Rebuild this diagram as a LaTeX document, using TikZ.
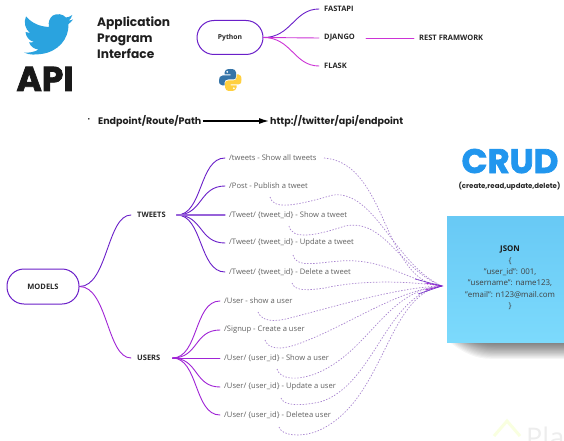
\documentclass[tikz,border=0pt]{standalone}
\usepackage{fontspec}
\setmainfont{Open Sans}
\newfontfamily\headfont{Poppins}
\newfontface\heavyface[FakeBold=2]{Poppins Bold}
\usetikzlibrary{arrows.meta,calc}
\definecolor{tw}{HTML}{6A1FC9}
\definecolor{us}{HTML}{A024D6}
\definecolor{mg}{HTML}{CC33D6}
\definecolor{dsh}{HTML}{A985D0}
\definecolor{birdblue}{HTML}{2AA3DF}
\definecolor{crudblue}{HTML}{2196EE}
\definecolor{pyb}{HTML}{3574A8}
\definecolor{pyy}{HTML}{FFD040}
\definecolor{notetop}{HTML}{68C9F5}
\definecolor{notebot}{HTML}{7CDAFC}
\tikzset{
 pill/.style={draw=#1,line width=1pt,rounded corners=17pt,fill=white,font=\bfseries\fontsize{7.5}{9}\selectfont,text=black!85},
 branch/.style={font=\bfseries\fontsize{7.5}{9}\selectfont,text=black!85,inner xsep=5pt,inner ysep=1pt,anchor=west},
 leaf/.style={font=\fontsize{7.6}{9}\selectfont,text=black!62,inner xsep=4pt,inner ysep=1pt,anchor=west},
 head/.style={font=\headfont\bfseries\fontsize{12.2}{16}\selectfont,text=black!88,inner sep=0pt,anchor=base west},
 conn/.style={line width=.9pt,line cap=round},
 dsh/.style={draw=dsh,line width=.7pt,dash pattern=on 1.4pt off 1.6pt},
}
\begin{document}
\begin{tikzpicture}[x=1pt,y=-1pt]
\useasboundingbox (0,0) rectangle (564,441);
\fill[white] (0,0) rectangle (564,441);
% bird
\fill[birdblue] (72.3,15) .. controls (69,17) and (67.5,17.5) .. (66,17.5)
  .. controls (63,14) and (57,13) .. (53,15.5) .. controls (49.5,18) and (48,22) .. (49,27)
  .. controls (39,26.5) and (32,23) .. (26,16.5) .. controls (23.5,22) and (25,29) .. (30,33)
  .. controls (28,33) and (27,32.5) .. (25.5,32) .. controls (26,37) and (29,40.5) .. (34,42)
  .. controls (32,42.5) and (30.5,42.5) .. (29,42.3) .. controls (30.5,46.5) and (34,49) .. (38.5,49.5)
  .. controls (34.5,52) and (29.5,53) .. (24,52.5) .. controls (30,55.5) and (36,54.5) .. (41,54)
  .. controls (58,52) and (69,39) .. (68.5,24) .. controls (70,23) and (71.5,21.5) .. (73,19.5)
  .. controls (71.5,20.2) and (70,20.7) .. (68.5,20.8) .. controls (70,20) and (71.5,17.5) .. (72.3,15) -- cycle;
\node[font=\heavyface\fontsize{34.5}{36}\selectfont,text=black!90,inner sep=0pt,anchor=base] (api) at (45,91) {API};
% headings
\node[head] (h1) at (97,26.5) {Application};
\node[head] (h2) at (97,42.5) {Program};
\node[head] (h3) at (97,58.5) {Interface};
% python tree
\node[pill=tw,minimum width=66pt,minimum height=34pt,font=\bfseries\fontsize{6.8}{9}\selectfont] (py) at (230,37.5) {Python};
\node[branch] (fast) at (319,9) {FASTAPI};
\node[branch] (dj) at (319,38) {DJANGO};
\node[branch] (fl) at (319,66) {FLASK};
\node[branch] (rest) at (414,38) {REST FRAMWORK};
\draw[conn,tw] (py.east) .. controls +(28,0) and +(-25,0) .. (fast.west);
\draw[conn,mg] (py.east) -- (dj.west);
\draw[conn,mg] (py.east) .. controls +(28,0) and +(-25,0) .. (fl.west);
\draw[conn,mg,shorten <=6pt] (dj.east) -- (rest.west);
% python logo
\fill[pyb] (230.5,69) .. controls (226,69) and (224.5,70.5) .. (224.5,72.5) -- (224.5,74.5) -- (230.5,74.5) -- (230.5,75.5)
  -- (222.5,75.5) .. controls (220,75.5) and (219,77.5) .. (219,80.3) .. controls (219,83.5) and (220,85.5) .. (222.5,85.5)
  -- (224.5,85.5) -- (224.5,82.5) .. controls (224.5,80.5) and (226,79.5) .. (228,79.5) -- (233,79.5)
  .. controls (235,79.5) and (236,78.5) .. (236,76.5) -- (236,72.5) .. controls (236,70.5) and (234.5,69) .. (230.5,69) -- cycle;
\fill[pyy] (230.5,91) .. controls (235,91) and (236.5,89.5) .. (236.5,87.5) -- (236.5,85.5) -- (230.5,85.5) -- (230.5,84.5)
  -- (238.5,84.5) .. controls (241,84.5) and (241.5,82.5) .. (241.5,79.7) .. controls (241.5,76.5) and (240.5,74.5) .. (238.5,74.5)
  -- (236.5,74.5) -- (236.5,77.5) .. controls (236.5,79.5) and (235,80.5) .. (233,80.5) -- (228,80.5)
  .. controls (226,80.5) and (225,81.5) .. (225,83.5) -- (225,87.5) .. controls (225,89.5) and (226.5,91) .. (230.5,91) -- cycle;
\fill[white] (227.2,71.8) circle (1pt) (233.8,88.2) circle (1pt);
% endpoint row
\node[font=\bfseries\fontsize{9}{9}\selectfont,inner sep=0pt] (dot) at (89,121) {·};
\node[font=\headfont\bfseries\fontsize{9.5}{12}\selectfont,text=black!88,inner sep=0pt,inner xsep=1pt,anchor=west] (ep) at (97,121) {Endpoint/Route/Path};
\node[font=\headfont\bfseries\fontsize{9.5}{12}\selectfont,text=black!88,inner sep=0pt,inner xsep=1pt,anchor=west] (url) at (269,121) {http://twitter/api/endpoint};
\draw[line width=1.2pt,-{Latex[length=10pt,width=6pt]}] (ep.east) -- (url.west);
% models tree
\node[pill=tw,minimum width=72pt,minimum height=35pt] (models) at (43,286.5) {MODELS};
\node[branch,inner xsep=6pt] (tweets) at (131,215) {TWEETS};
\node[branch,inner xsep=6pt] (users) at (131,358) {USERS};
\draw[conn,tw] (models.east) .. controls +(28,0) and +(-24,0) .. (tweets.west);
\draw[conn,us] (models.east) .. controls +(28,0) and +(-24,0) .. (users.west);
% leaves
\node[leaf] (t1) at (225,158) {/tweets - Show all tweets};
\node[leaf] (t2) at (225,186) {/Post - Publish a tweet};
\node[leaf] (t3) at (225,215) {/Tweet/ \{tweet\_id\} - Show a tweet};
\node[leaf] (t4) at (225,243) {/Tweet/ \{tweet\_id\} - Update a tweet};
\node[leaf] (t5) at (225,272) {/Tweet/ \{tweet\_id\} - Delete a tweet};
\node[leaf] (u1) at (220,301) {/User - show a user};
\node[leaf] (u2) at (220,330) {/Signup - Create a user};
\node[leaf] (u3) at (220,358) {/User/ \{user\_id\} - Show a user};
\node[leaf] (u4) at (220,387) {/User/ \{user\_id\} - Update a user};
\node[leaf] (u5) at (220,415) {/User/ \{user\_id\} - Deletea user};
\foreach \n in {t1,t2,t4,t5}
  \draw[conn,tw] ($(tweets.east)+(5,0)$) .. controls +(26,0) and +(-26,0) .. (\n.west);
\draw[conn,tw!70!white,line width=1.2pt] ($(tweets.east)+(5,0)$) -- (t3.west);
\foreach \n in {u1,u2,u4,u5}
  \draw[conn,us] ($(users.east)+(6,0)$) .. controls +(26,0) and +(-26,0) .. (\n.west);
\draw[conn,us] ($(users.east)+(6,0)$) -- (u3.west);
% CRUD
\node[font=\heavyface\fontsize{34}{34}\selectfont,text=crudblue,inner sep=0pt,anchor=base] (crud) at (510,173) {CRUD};
\node[font=\headfont\bfseries\fontsize{7}{8}\selectfont,text=black!85,inner sep=0pt] (crudsub) at (509.5,186.5) {(create,read,update,delete)};
% note shadow
\foreach \i in {1,...,16}
  \fill[black,opacity=.04] ({448+\i*1.6},342) -- (564,342) -- (564,{342+(17-\i)*1.05}) -- ({490+\i*.5},{342+(17-\i)*1.05}) .. controls ({475+\i},{342+(17-\i)*1.05}) and ({462+\i*1.6},{342+(17-\i)*.7}) .. ({448+\i*1.6},342) -- cycle;
% note
\node[minimum width=118pt,minimum height=126pt,inner sep=0pt,top color=notetop,bottom color=notebot,anchor=north west] (note) at (447,216) {};
\node[align=center,font=\fontsize{7.9}{11.3}\selectfont,text=black!75,inner sep=0pt] (json) at (510,278) {{\bfseries\color{black!90}JSON}\\\{\\"user\_id": 001,\\"username": name123,\\"email": n123@mail.com\\\}};
% dashed links
\coordinate (hub) at (442,286);
\coordinate (d1) at (324,158);
\coordinate (d2) at (270,197);
\coordinate (d3) at (289,226);
\coordinate (d4) at (293,255);
\coordinate (d5) at (292,283);
\coordinate (d6) at (258,312);
\coordinate (d7) at (265,340);
\coordinate (d8) at (277,369);
\coordinate (d9) at (281,398);
\coordinate (d10) at (279,427);
\draw[dsh] (d1) .. controls (350,160) and (365,180) .. (380,212) .. controls (395,245) and (410,285) .. (hub);
\draw[dsh] (d2) .. controls (273,210) and (295,206) .. (333,195) .. controls (375,190) and (395,265) .. (hub);
\draw[dsh] (d3) .. controls (292,240) and (315,236) .. (345,226) .. controls (385,218) and (400,270) .. (hub);
\draw[dsh] (d4) .. controls (296,268) and (315,263) .. (340,261) .. controls (385,258) and (405,280) .. (hub);
\draw[dsh] (d5) .. controls (295,292) and (310,290) .. (325,288) .. controls (355,281) and (400,280) .. (hub);
\draw[dsh] (d6) .. controls (262,322) and (275,322) .. (290,318) .. controls (340,305) and (400,287) .. (hub);
\draw[dsh] (d7) .. controls (268,349) and (280,350) .. (295,345) .. controls (345,328) and (395,290) .. (hub);
\draw[dsh] (d8) .. controls (280,379) and (295,381) .. (315,374) .. controls (370,352) and (385,290) .. (hub);
\draw[dsh] (d9) .. controls (284,406) and (300,406) .. (320,402) .. controls (375,385) and (385,295) .. (hub);
\draw[dsh] (d10) .. controls (282,436) and (300,437) .. (315,432) .. controls (385,405) and (385,295) .. (hub);
\draw[us,line width=.7pt] (425,283) -- (hub) -- (425,290);
\draw[tw,line width=.5pt] (415,279) -- (hub) -- (418,294);
% watermark
\begin{scope}
\clip (0,0) rectangle (564,441);
\node[font=\fontsize{27}{27}\selectfont,text=black!7,anchor=base west,inner sep=0pt] (plan) at (526,447) {Pla};
\draw[green!20!yellow!12!white,line width=3pt] (494,436) -- (507,421) -- (520,436);
\end{scope}
\end{tikzpicture}
\end{document}
